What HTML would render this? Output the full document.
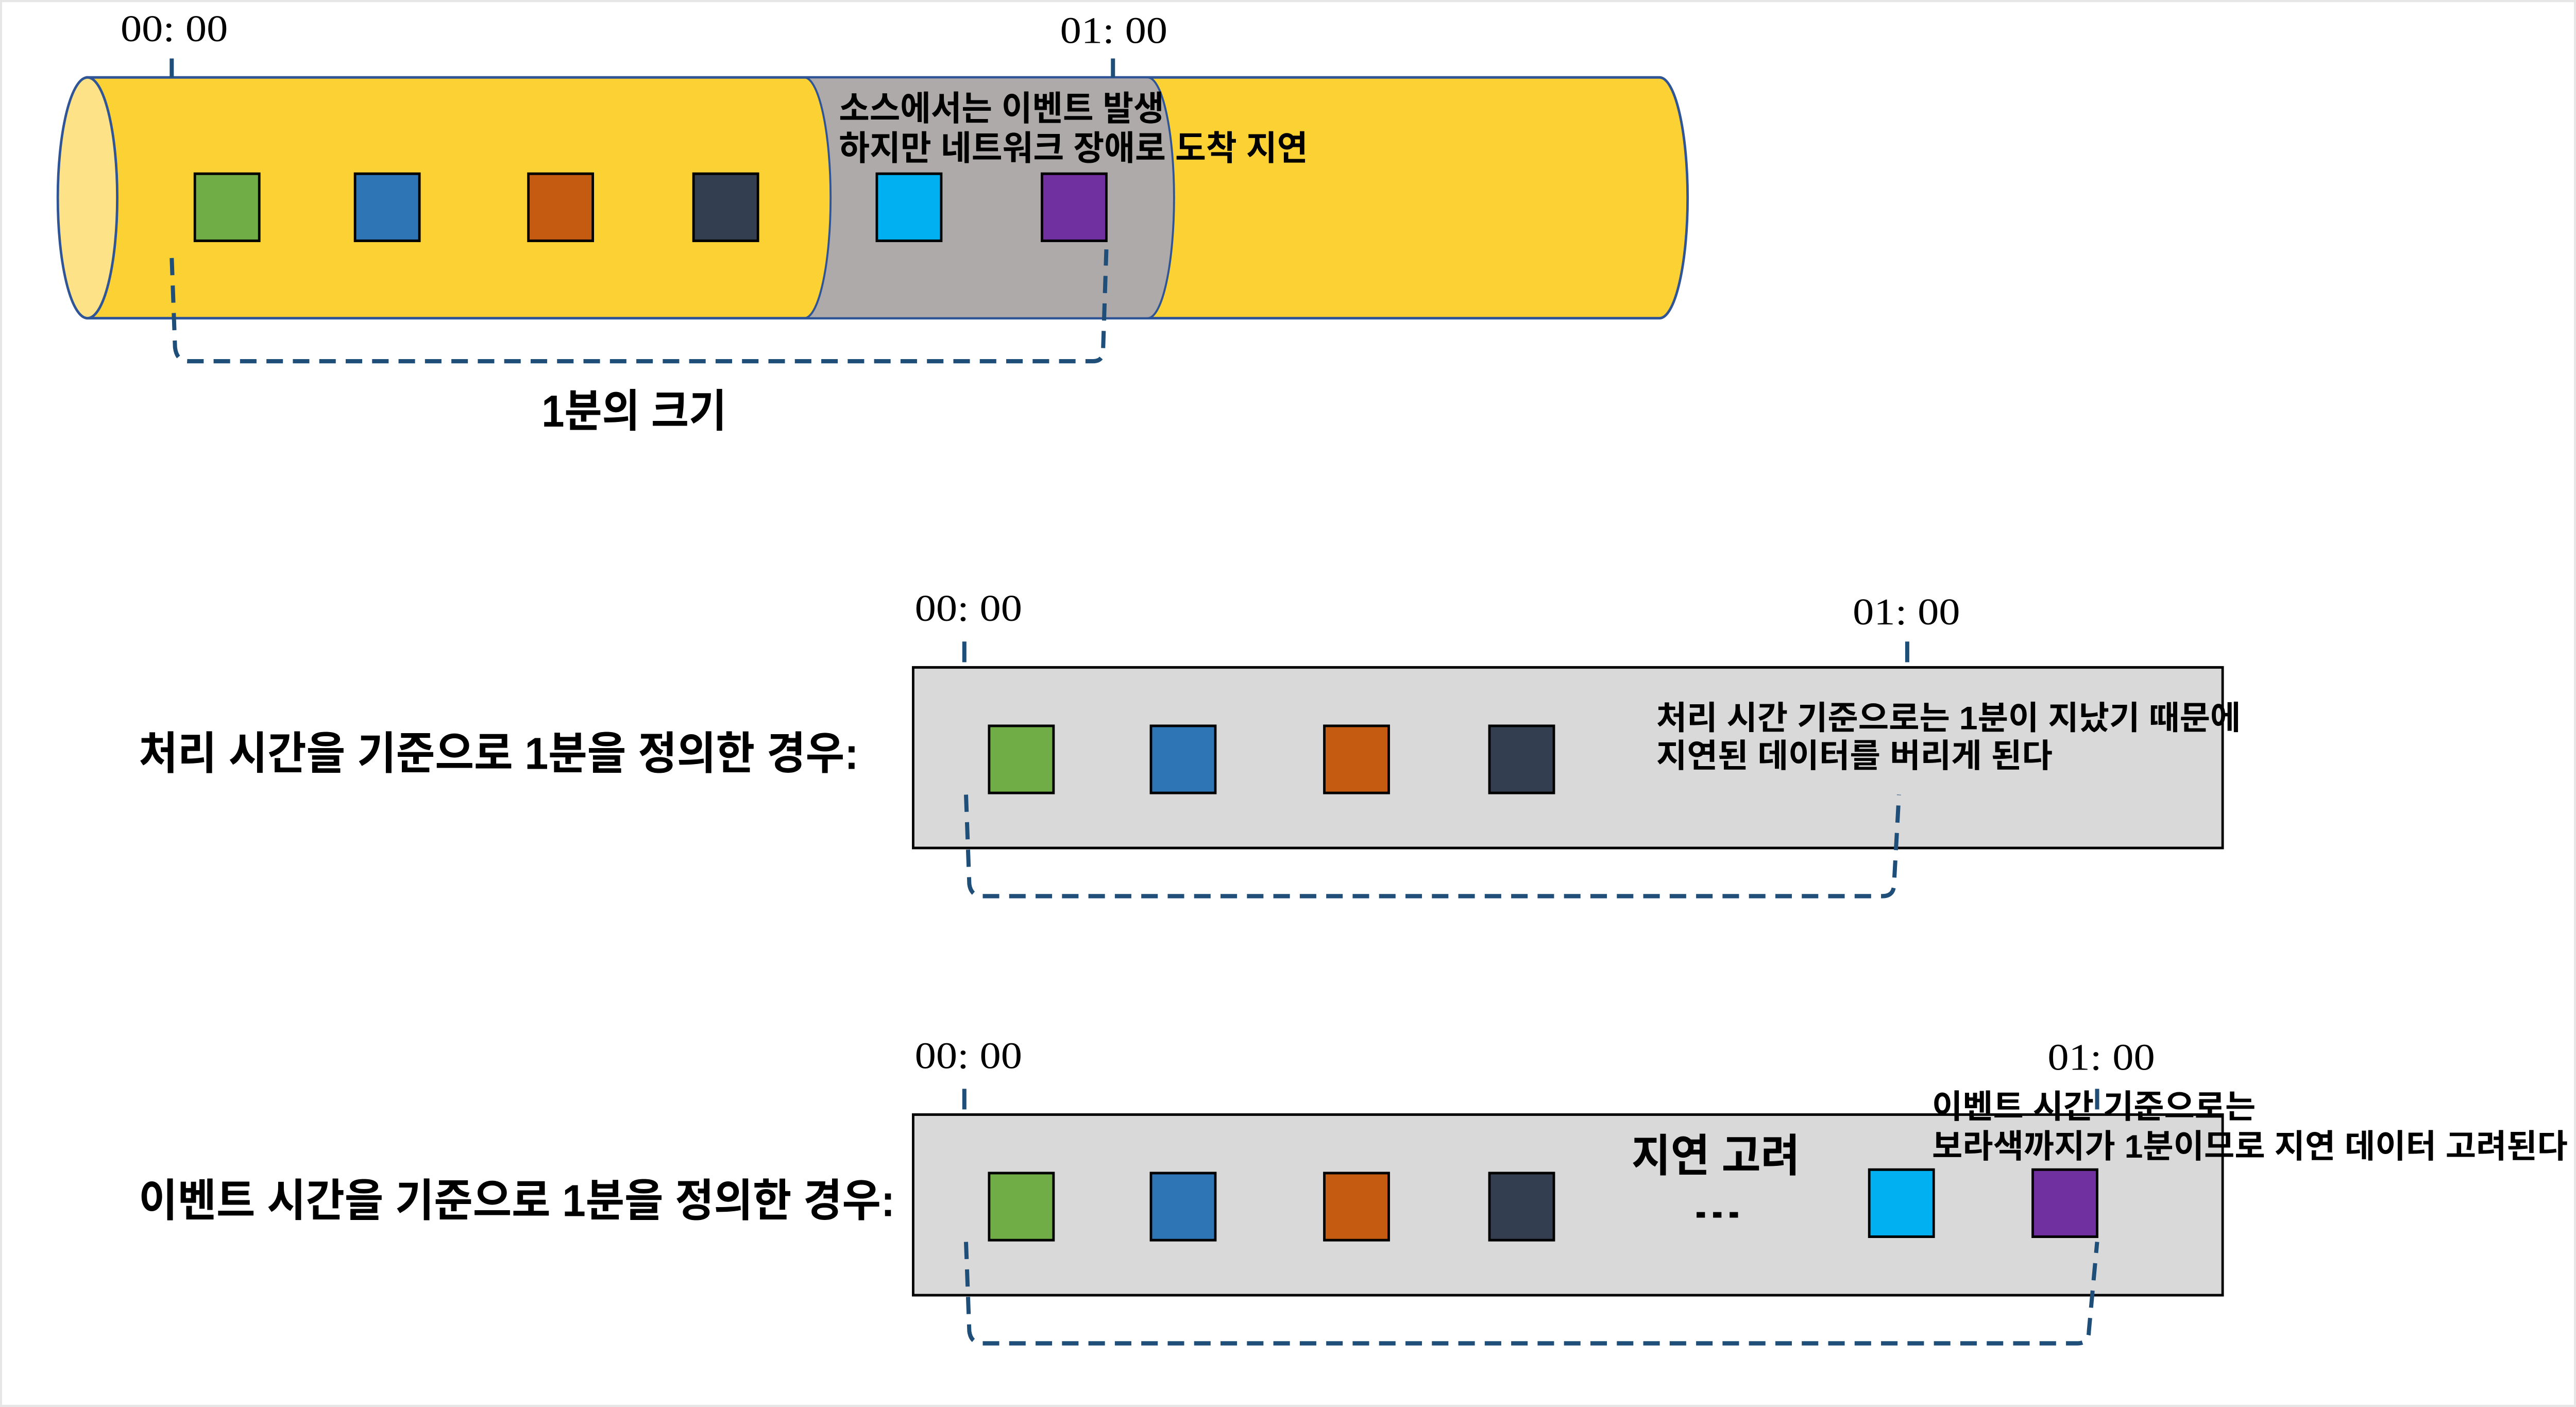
<!DOCTYPE html>
<html><head><meta charset="utf-8">
<style>html,body{margin:0;padding:0;background:#fff;width:100%;height:100%;overflow:hidden;}svg{display:block;width:100vw;height:100vh;}
.k{font-family:"Liberation Sans","Noto Sans CJK KR",sans-serif;font-weight:bold;fill:#000;}
.t{font-family:"Liberation Serif",serif;fill:#000;font-size:22px;}
</style></head><body>
<svg viewBox="0 0 1560 818" preserveAspectRatio="none" xmlns="http://www.w3.org/2000/svg">
<rect x="0.5" y="0.5" width="1559" height="817" fill="#fff" stroke="#e6e6e6" stroke-width="1.5"/>
<path d="M53 45 L1005 45 A17 70 0 0 1 1005 185 L53 185 Z" fill="#fcd133" stroke="#2f5597" stroke-width="1.5"/>
<path d="M487 45 L695 45 A16 70 0 0 1 695 185 L487 185 A16 70 0 0 0 487 45 Z" fill="#aeaaaa" stroke="#2f5597" stroke-width="1.2"/>
<ellipse cx="53" cy="115" rx="18" ry="70" fill="#fde288" stroke="#2f5597" stroke-width="1.5"/>
<g stroke="#000" stroke-width="1.5">
<rect x="118" y="101" width="39" height="39" fill="#70ad47"/>
<rect x="215" y="101" width="39" height="39" fill="#2e75b6"/>
<rect x="320" y="101" width="39" height="39" fill="#c55a11"/>
<rect x="420" y="101" width="39" height="39" fill="#333f50"/>
<rect x="531" y="101" width="39" height="39" fill="#00b0f0"/>
<rect x="631" y="101" width="39" height="39" fill="#7030a0"/>
</g>
<text class="t" x="73" y="24" textLength="65" lengthAdjust="spacingAndGlyphs">00: 00</text>
<text class="t" x="642" y="25" textLength="65" lengthAdjust="spacingAndGlyphs">01: 00</text>
<g stroke="#1f4e79" stroke-width="2.5" fill="none">
<line x1="104" y1="34" x2="104" y2="45"/>
<line x1="674" y1="34" x2="674" y2="45"/>
<path d="M104 150 L106 202 Q107 210 114 210 L662 210 Q668 210 668 204 L670 145" stroke-dasharray="10 6"/>
</g>
<text class="k" x="508" y="70" font-size="20" textLength="197" lengthAdjust="spacingAndGlyphs">소스에서는 이벤트 발생</text>
<text class="k" x="508" y="93" font-size="20" textLength="284" lengthAdjust="spacingAndGlyphs">하지만 네트워크 장애로 도착 지연</text>
<text class="k" x="328" y="248" font-size="26" textLength="112" lengthAdjust="spacingAndGlyphs">1분의 크기</text>

<text class="k" x="84" y="447" font-size="26" textLength="436" lengthAdjust="spacingAndGlyphs">처리 시간을 기준으로 1분을 정의한 경우:</text>
<rect x="553" y="388" width="793" height="105" fill="#d9d9d9" stroke="#000" stroke-width="1.5"/>
<g stroke="#000" stroke-width="1.5">
<rect x="599" y="422" width="39" height="39" fill="#70ad47"/>
<rect x="697" y="422" width="39" height="39" fill="#2e75b6"/>
<rect x="802" y="422" width="39" height="39" fill="#c55a11"/>
<rect x="902" y="422" width="39" height="39" fill="#333f50"/>
</g>
<text class="t" x="554" y="361" textLength="65" lengthAdjust="spacingAndGlyphs">00: 00</text>
<text class="t" x="1122" y="363" textLength="65" lengthAdjust="spacingAndGlyphs">01: 00</text>
<g stroke="#1f4e79" stroke-width="2.5" fill="none">
<line x1="584" y1="373" x2="584" y2="385"/>
<line x1="1155" y1="373" x2="1155" y2="385"/>
<path d="M585 462 L587 514 Q588 521 595 521 L1140 521 Q1147 521 1147 514 L1150 462" stroke-dasharray="10 6"/>
</g>
<text class="k" x="1003" y="424" font-size="19" textLength="354" lengthAdjust="spacingAndGlyphs">처리 시간 기준으로는 1분이 지났기 때문에</text>
<text class="k" x="1003" y="446" font-size="19" textLength="240" lengthAdjust="spacingAndGlyphs">지연된 데이터를 버리게 된다</text>

<text class="k" x="84" y="707" font-size="26" textLength="458" lengthAdjust="spacingAndGlyphs">이벤트 시간을 기준으로 1분을 정의한 경우:</text>
<rect x="553" y="648" width="793" height="105" fill="#d9d9d9" stroke="#000" stroke-width="1.5"/>
<g stroke="#000" stroke-width="1.5">
<rect x="599" y="682" width="39" height="39" fill="#70ad47"/>
<rect x="697" y="682" width="39" height="39" fill="#2e75b6"/>
<rect x="802" y="682" width="39" height="39" fill="#c55a11"/>
<rect x="902" y="682" width="39" height="39" fill="#333f50"/>
<rect x="1132" y="680" width="39" height="39" fill="#00b0f0"/>
<rect x="1231" y="680" width="39" height="39" fill="#7030a0"/>
</g>
<text class="t" x="554" y="621" textLength="65" lengthAdjust="spacingAndGlyphs">00: 00</text>
<text class="t" x="1240" y="622" textLength="65" lengthAdjust="spacingAndGlyphs">01: 00</text>
<g stroke="#1f4e79" stroke-width="2.5" fill="none">
<line x1="584" y1="633" x2="584" y2="645"/>
<line x1="1270" y1="633" x2="1270" y2="645"/>
<path d="M585 722 L587 774 Q588 781 595 781 L1258 781 Q1265 781 1265 774 L1270 722" stroke-dasharray="10 6"/>
</g>
<text class="k" x="988" y="681" font-size="26" textLength="102" lengthAdjust="spacingAndGlyphs">지연 고려</text>
<text class="k" x="1025" y="708" font-size="22" textLength="30" lengthAdjust="spacingAndGlyphs">...</text>
<text class="k" x="1170" y="650" font-size="19" textLength="196" lengthAdjust="spacingAndGlyphs">이벤트 시간 기준으로는</text>
<text class="k" x="1170" y="673" font-size="19" textLength="385" lengthAdjust="spacingAndGlyphs">보라색까지가 1분이므로 지연 데이터 고려된다</text>
</svg>
</body></html>
